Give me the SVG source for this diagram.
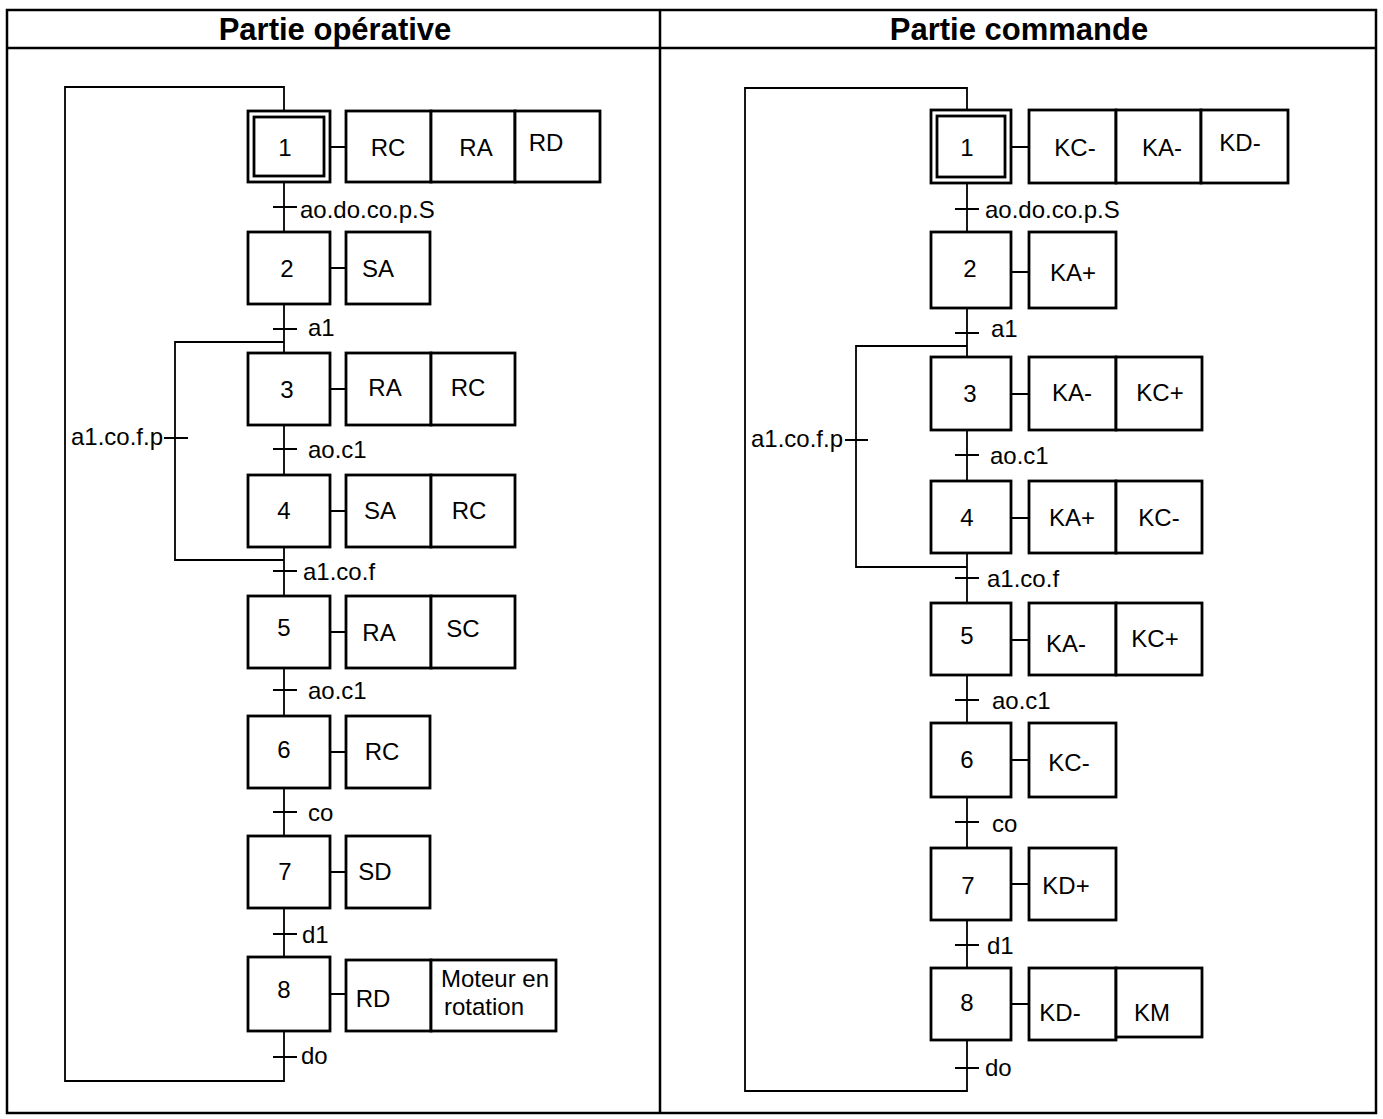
<svg xmlns="http://www.w3.org/2000/svg" width="1383" height="1119" viewBox="0 0 1383 1119">
<style>
  .frame{fill:none;stroke:#000;stroke-width:2.5}
  .step{fill:#fff;stroke:#000;stroke-width:2.8}
  .act{fill:#fff;stroke:#000;stroke-width:2.8}
  .ln{fill:none;stroke:#000;stroke-width:1.8}
  .t{font-family:"Liberation Sans",Arial,sans-serif;font-size:24px;fill:#000;dominant-baseline:central}
  .c{text-anchor:middle}
  .h{font-family:"Liberation Sans",Arial,sans-serif;font-size:31px;font-weight:bold;text-anchor:middle;fill:#000}
</style>
<rect width="1383" height="1119" fill="#fff"/>
<g id="table">
  <rect class="frame" x="7" y="10" width="1369" height="1103"/>
  <line class="frame" x1="7" y1="48" x2="1376" y2="48"/>
  <line class="frame" x1="660" y1="10" x2="660" y2="1113"/>
  <text class="h" x="335" y="40">Partie opérative</text>
  <text class="h" x="1019" y="40">Partie commande</text>
</g>

<!-- LEFT: Partie opérative -->
<g id="left-connectors">
  <path class="ln" d="M284,111 V87 H65 V1081 H284 V1031"/>
  <path class="ln" d="M284,182 V232 M284,304 V353 M284,425 V475 M284,547 V596 M284,668 V716 M284,788 V836 M284,908 V957"/>
  <path class="ln" d="M284,342 H175 V560 H284"/>
  <path class="ln" d="M273,207 H297 M273,329 H297 M273,449 H297 M273,571 H297 M273,690 H297 M273,812 H297 M273,934 H297 M273,1057 H297 M164,438 H188"/>
  <path class="ln" d="M330,147 H346 M330,268 H346 M330,389 H346 M330,511 H346 M330,632 H346 M330,752 H346 M330,872 H346 M330,994 H346"/>
  <text class="t" x="300" y="209">ao.do.co.p.S</text>
  <text class="t" x="308" y="327">a1</text>
  <text class="t" x="308" y="449">ao.c1</text>
  <text class="t" x="303" y="571">a1.co.f</text>
  <text class="t" x="308" y="690">ao.c1</text>
  <text class="t" x="308" y="812">co</text>
  <text class="t" x="302" y="934">d1</text>
  <text class="t" x="301" y="1055">do</text>
  <text class="t" x="163" y="436" text-anchor="end">a1.co.f.p</text>
</g>
<g id="L1">
  <rect class="step" x="248" y="111" width="82" height="71"/>
  <rect class="step" x="254" y="117" width="70" height="59"/>
  <text class="t c" x="285" y="147">1</text>
  <rect class="act" x="346" y="111" width="85" height="71"/>
  <rect class="act" x="431" y="111" width="84" height="71"/>
  <rect class="act" x="515" y="111" width="85" height="71"/>
  <text class="t c" x="388" y="147">RC</text>
  <text class="t c" x="476" y="147">RA</text>
  <text class="t c" x="546" y="142">RD</text>
</g>
<g id="L2">
  <rect class="step" x="248" y="232" width="82" height="72"/>
  <text class="t c" x="287" y="268">2</text>
  <rect class="act" x="346" y="232" width="84" height="72"/>
  <text class="t c" x="378" y="268">SA</text>
</g>
<g id="L3">
  <rect class="step" x="248" y="353" width="82" height="72"/>
  <text class="t c" x="287" y="389">3</text>
  <rect class="act" x="346" y="353" width="85" height="72"/>
  <rect class="act" x="431" y="353" width="84" height="72"/>
  <text class="t c" x="385" y="387">RA</text>
  <text class="t c" x="468" y="387">RC</text>
</g>
<g id="L4">
  <rect class="step" x="248" y="475" width="82" height="72"/>
  <text class="t c" x="284" y="510">4</text>
  <rect class="act" x="346" y="475" width="85" height="72"/>
  <rect class="act" x="431" y="475" width="84" height="72"/>
  <text class="t c" x="380" y="510">SA</text>
  <text class="t c" x="469" y="510">RC</text>
</g>
<g id="L5">
  <rect class="step" x="248" y="596" width="82" height="72"/>
  <text class="t c" x="284" y="627">5</text>
  <rect class="act" x="346" y="596" width="85" height="72"/>
  <rect class="act" x="431" y="596" width="84" height="72"/>
  <text class="t c" x="379" y="632">RA</text>
  <text class="t c" x="463" y="628">SC</text>
</g>
<g id="L6">
  <rect class="step" x="248" y="716" width="82" height="72"/>
  <text class="t c" x="284" y="749">6</text>
  <rect class="act" x="346" y="716" width="84" height="72"/>
  <text class="t c" x="382" y="751">RC</text>
</g>
<g id="L7">
  <rect class="step" x="248" y="836" width="82" height="72"/>
  <text class="t c" x="285" y="871">7</text>
  <rect class="act" x="346" y="836" width="84" height="72"/>
  <text class="t c" x="375" y="871">SD</text>
</g>
<g id="L8">
  <rect class="step" x="248" y="957" width="82" height="74"/>
  <text class="t c" x="284" y="989">8</text>
  <rect class="act" x="346" y="960" width="85" height="71"/>
  <rect class="act" x="431" y="960" width="125" height="71"/>
  <text class="t c" x="373" y="998">RD</text>
  <text class="t" x="441" y="978">Moteur en</text>
  <text class="t" x="444" y="1006">rotation</text>
</g>

<!-- RIGHT: Partie commande -->
<g id="right-connectors">
  <path class="ln" d="M967,110 V88 H745 V1091 H967 V1040"/>
  <path class="ln" d="M967,183 V232 M967,308 V357 M967,430 V481 M967,553 V603 M967,675 V723 M967,797 V848 M967,920 V968"/>
  <path class="ln" d="M967,346 H856 V567 H967"/>
  <path class="ln" d="M955,209 H979 M955,333 H979 M955,455 H979 M955,578 H979 M955,700 H979 M955,822 H979 M955,945 H979 M955,1068 H979 M845,440 H868"/>
  <path class="ln" d="M1011,147 H1029 M1011,272 H1029 M1011,394 H1029 M1011,518 H1029 M1011,640 H1029 M1011,760 H1029 M1011,884 H1029 M1011,1004 H1029"/>
  <text class="t" x="985" y="209">ao.do.co.p.S</text>
  <text class="t" x="991" y="328">a1</text>
  <text class="t" x="990" y="455">ao.c1</text>
  <text class="t" x="987" y="578">a1.co.f</text>
  <text class="t" x="992" y="700">ao.c1</text>
  <text class="t" x="992" y="823">co</text>
  <text class="t" x="987" y="945">d1</text>
  <text class="t" x="985" y="1067">do</text>
  <text class="t" x="843" y="438" text-anchor="end">a1.co.f.p</text>
</g>
<g id="R1">
  <rect class="step" x="931" y="110" width="80" height="73"/>
  <rect class="step" x="937" y="116" width="68" height="61"/>
  <text class="t c" x="967" y="147">1</text>
  <rect class="act" x="1029" y="110" width="87" height="73"/>
  <rect class="act" x="1116" y="110" width="85" height="73"/>
  <rect class="act" x="1201" y="110" width="87" height="73"/>
  <text class="t c" x="1075" y="147">KC-</text>
  <text class="t c" x="1162" y="147">KA-</text>
  <text class="t c" x="1240" y="142">KD-</text>
</g>
<g id="R2">
  <rect class="step" x="931" y="232" width="80" height="76"/>
  <text class="t c" x="970" y="268">2</text>
  <rect class="act" x="1029" y="232" width="87" height="76"/>
  <text class="t c" x="1073" y="272">KA+</text>
</g>
<g id="R3">
  <rect class="step" x="931" y="357" width="80" height="73"/>
  <text class="t c" x="970" y="393">3</text>
  <rect class="act" x="1029" y="357" width="87" height="73"/>
  <rect class="act" x="1116" y="357" width="86" height="73"/>
  <text class="t c" x="1072" y="392">KA-</text>
  <text class="t c" x="1160" y="392">KC+</text>
</g>
<g id="R4">
  <rect class="step" x="931" y="481" width="80" height="72"/>
  <text class="t c" x="967" y="517">4</text>
  <rect class="act" x="1029" y="481" width="87" height="72"/>
  <rect class="act" x="1116" y="481" width="86" height="72"/>
  <text class="t c" x="1072" y="517">KA+</text>
  <text class="t c" x="1159" y="517">KC-</text>
</g>
<g id="R5">
  <rect class="step" x="931" y="603" width="80" height="72"/>
  <text class="t c" x="967" y="635">5</text>
  <rect class="act" x="1029" y="603" width="87" height="72"/>
  <rect class="act" x="1116" y="603" width="86" height="72"/>
  <text class="t c" x="1066" y="643">KA-</text>
  <text class="t c" x="1155" y="638">KC+</text>
</g>
<g id="R6">
  <rect class="step" x="931" y="723" width="80" height="74"/>
  <text class="t c" x="967" y="759">6</text>
  <rect class="act" x="1029" y="723" width="87" height="74"/>
  <text class="t c" x="1069" y="762">KC-</text>
</g>
<g id="R7">
  <rect class="step" x="931" y="848" width="80" height="72"/>
  <text class="t c" x="968" y="885">7</text>
  <rect class="act" x="1029" y="848" width="87" height="72"/>
  <text class="t c" x="1066" y="885">KD+</text>
</g>
<g id="R8">
  <rect class="step" x="931" y="968" width="80" height="72"/>
  <text class="t c" x="967" y="1002">8</text>
  <rect class="act" x="1029" y="968" width="87" height="72"/>
  <rect class="act" x="1116" y="968" width="86" height="69"/>
  <text class="t c" x="1060" y="1012">KD-</text>
  <text class="t c" x="1152" y="1012">KM</text>
</g>
</svg>
